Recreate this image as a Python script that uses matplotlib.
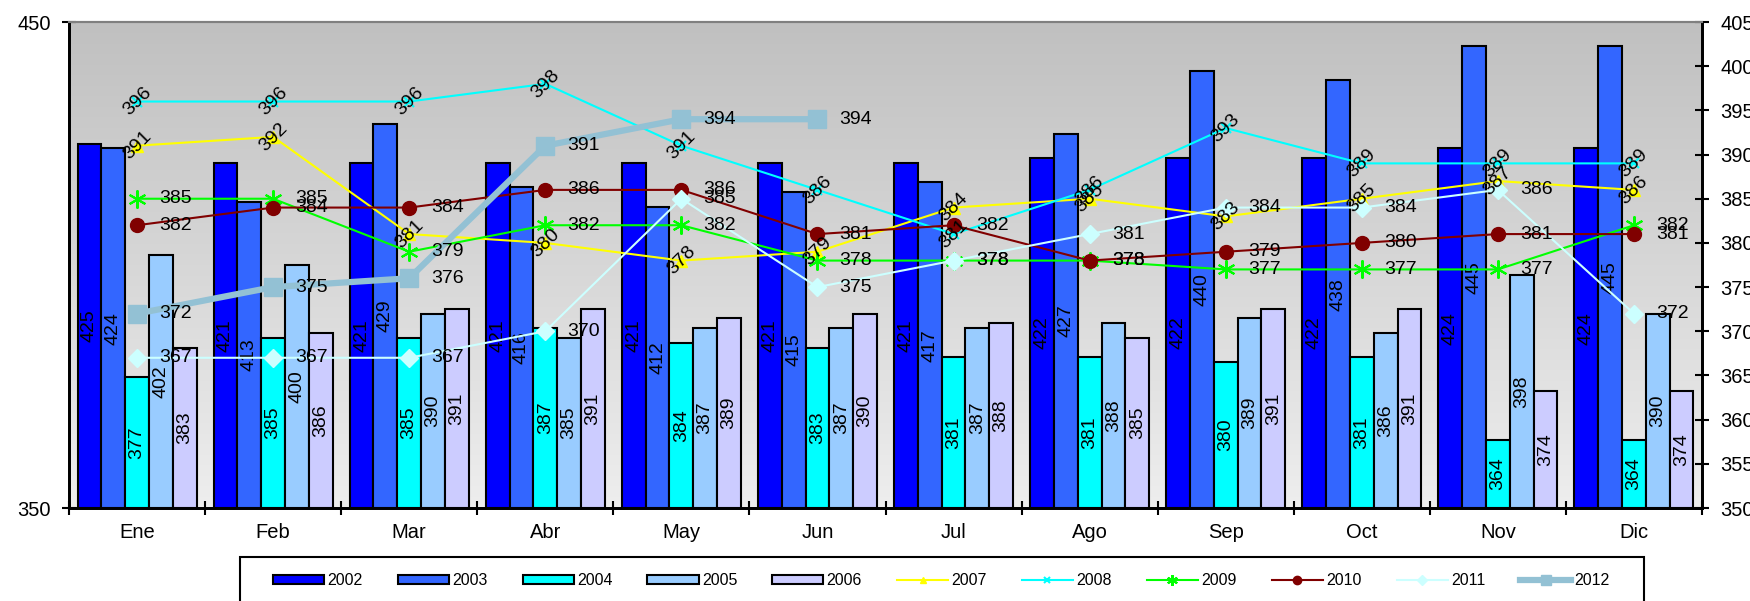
import numpy as np
import matplotlib.pyplot as plt
from matplotlib.colors import LinearSegmentedColormap
from matplotlib.patches import Rectangle

plt.rcParams['font.family'] = ['Liberation Sans', 'DejaVu Sans']

meses = ['Ene', 'Feb', 'Mar', 'Abr', 'May', 'Jun', 'Jul', 'Ago', 'Sep', 'Oct', 'Nov', 'Dic']

# barras (eje izquierdo)
v2002 = [425, 421, 421, 421, 421, 421, 421, 422, 422, 422, 424, 424]
v2003 = [424, 413, 429, 416, 412, 415, 417, 427, 440, 438, 445, 445]
v2004 = [377, 385, 385, 387, 384, 383, 381, 381, 380, 381, 364, 364]
v2005 = [402, 400, 390, 385, 387, 387, 387, 388, 389, 386, 398, 390]
v2006 = [383, 386, 391, 391, 389, 390, 388, 385, 391, 391, 374, 374]

# lineas (eje derecho)
v2007 = [391, 392, 381, 380, 378, 379, 384, 385, 383, 385, 387, 386]
v2008 = [396, 396, 396, 398, 391, 386, 381, 386, 393, 389, 389, 389]
v2009 = [385, 385, 379, 382, 382, 378, 378, 378, 377, 377, 377, 382]
v2010 = [382, 384, 384, 386, 386, 381, 382, 378, 379, 380, 381, 381]
v2011 = [367, 367, 367, 370, 385, 375, 378, 381, 384, 384, 386, 372]
v2012 = [372, 375, 376, 391, 394, 394, np.nan, np.nan, np.nan, np.nan, np.nan, np.nan]

barras = [('2002', v2002, '#0000FF'), ('2003', v2003, '#3366FF'), ('2004', v2004, '#00FFFF'),
          ('2005', v2005, '#99CCFF'), ('2006', v2006, '#CCCCFF')]

lineas = [('2007', v2007, dict(color='#FFFF00', lw=1.5, marker='^', ms=8), True),
          ('2008', v2008, dict(color='#00FFFF', lw=1.5, marker='x', ms=7, mew=1.5), True),
          ('2009', v2009, dict(color='#00FF00', lw=1.5, marker=(6, 2, 0), ms=13, mew=1.5), False),
          ('2010', v2010, dict(color='#800000', lw=1.5, marker='o', ms=10), False),
          ('2011', v2011, dict(color='#CCFFFF', lw=1.5, marker='D', ms=9), False),
          ('2012', v2012, dict(color='#93C1D4', lw=4.5, marker='s', ms=13), False)]

fig = plt.figure(figsize=(17.5, 6.01), dpi=100)
ax = fig.add_axes([69 / 1750, 1 - 508 / 601, (1702 - 69) / 1750, (508 - 22) / 601])
ax2 = ax.twinx()

# fondo degradado
bg = LinearSegmentedColormap.from_list('bg', ['#C0C0C0', '#EEEEEE'])
ax.imshow(np.linspace(0, 1, 256).reshape(-1, 1), cmap=bg, extent=[0, 1, 0, 1],
          transform=ax.transAxes, aspect='auto', zorder=0)

x = np.arange(len(meses))
w = 0.175
for i, (nombre, vals, color) in enumerate(barras):
    alto = np.array(vals) - 350
    b = ax.bar(x + (i - 2) * w, alto, w, bottom=350, color=color, edgecolor='black',
               linewidth=1.5, label=nombre, zorder=2)
    ax.bar_label(b, labels=[str(v) for v in vals], label_type='center', rotation=90, fontsize=14)

for nombre, vals, estilo, girado in lineas:
    ax2.plot(x, vals, label=nombre, **estilo)
    for xi, v in zip(x, vals):
        if np.isnan(v):
            continue
        if girado:
            ax2.text(xi, v, str(v), rotation=45, ha='center', va='center', fontsize=14,
                     rotation_mode='anchor')
        else:
            ax2.annotate(str(v), (xi, v), xytext=(16, 0), textcoords='offset points',
                         ha='left', va='center', fontsize=14)

ax.set_xlim(-0.5, 11.5)
ax.set_ylim(350, 450)
ax.set_yticks([350, 450])
ax2.set_ylim(350, 405)
ax2.set_yticks(np.arange(350, 406, 5))

ax.set_xticks(x)
ax.set_xticklabels(meses)
ax.set_xticks(np.arange(-0.5, 12, 1), minor=True)
ax.tick_params(axis='x', which='major', length=0, pad=11, labelsize=14.5)
ax.tick_params(axis='x', which='minor', direction='inout', length=10, width=1.5)
ax.tick_params(axis='y', direction='inout', length=10, width=1.5, labelsize=14.5, pad=8)
ax2.tick_params(axis='y', direction='inout', length=10, width=1.5, labelsize=14.5, pad=8)

for a in (ax, ax2):
    for lado in ('left', 'right', 'bottom'):
        a.spines[lado].set_linewidth(2)
        a.spines[lado].set_color('black')
    a.spines['top'].set_color('#808080')
    a.spines['top'].set_linewidth(1.5)

h1, l1 = ax.get_legend_handles_labels()
h2, l2 = ax2.get_legend_handles_labels()
fig.legend(h1 + h2, l1 + l2, ncol=11, loc='upper left', bbox_to_anchor=(273 / 1750, 1 - 573 / 601),
           frameon=False, fontsize=11.5, handlelength=3.2, handleheight=0.45, handletextpad=0.2,
           columnspacing=2.2, borderpad=0, borderaxespad=0, markerscale=0.6)
fig.patches.append(Rectangle((240 / 1750, -0.05), (1644 - 240) / 1750, 0.05 + 44 / 601,
                             transform=fig.transFigure, fill=False, edgecolor='black', lw=1.5))

fig.savefig('out.png', dpi=100)
